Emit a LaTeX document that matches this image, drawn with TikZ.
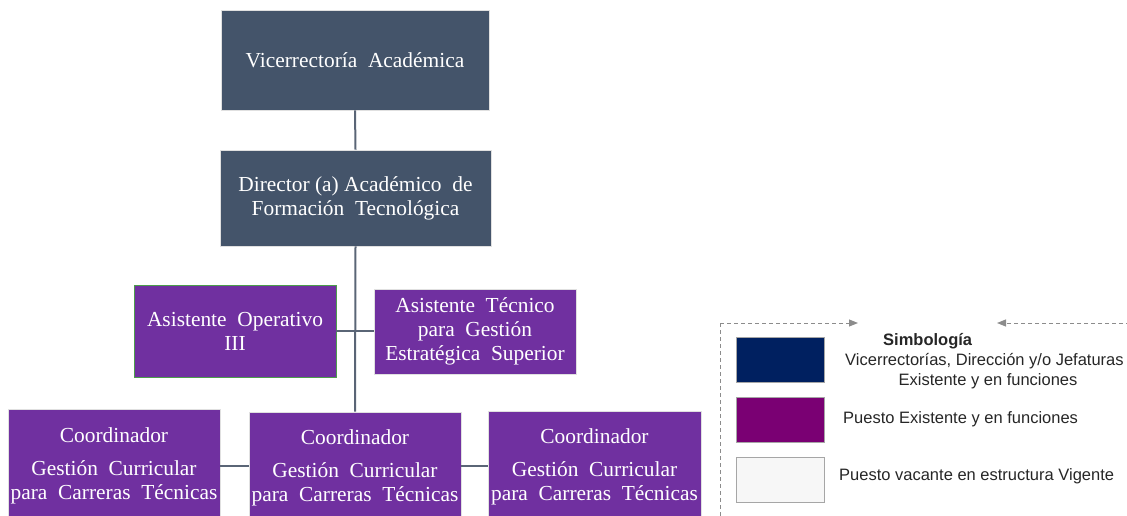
\documentclass[tikz,border=0pt]{standalone}
\usepackage{fontspec}
\setmainfont{Liberation Serif}
\newfontfamily\legfont{Liberation Sans}
\usetikzlibrary{arrows.meta}
\definecolor{slate}{HTML}{44546A}
\definecolor{purp}{HTML}{7030A0}
\definecolor{legnavy}{HTML}{002060}
\definecolor{legpurp}{HTML}{7A0073}
\definecolor{lineg}{HTML}{5A6576}
\definecolor{dashg}{HTML}{8C8C8C}
\tikzset{
  orgbox/.style={draw=black!12, line width=0.8pt, text=white, align=center,
    font=\rmfamily\fontsize{21.4}{24}\selectfont, inner sep=0pt},
  dirbox/.style={orgbox, fill=slate},
  posbox/.style={orgbox, fill=purp},
  conn/.style={draw=lineg, line width=2pt},
  legbox/.style={draw=black!35, line width=0.8pt, minimum width=88pt, minimum height=45pt, inner sep=0pt},
  legtext/.style={font=\legfont\fontsize{16.5}{18}\selectfont, inner sep=0pt, text=black!85},
  legdash/.style={draw=dashg, line width=1pt, dash pattern=on 4pt off 3pt}
}
\begin{document}
\begin{tikzpicture}[x=1pt,y=-1pt]
\useasboundingbox (0,0) rectangle (1127,516);
\node[dirbox, minimum width=268pt, minimum height=100pt] (vice) at (355,60) {Vicerrectoría\ \ Académica};
\node[dirbox, minimum width=271pt, minimum height=96pt] (dir) at (355.5,198) {\raisebox{-2pt}{\parbox{260pt}{\centering Director (a) Académico\ \ de\\Formación\ \ Tecnológica}}};
\node[posbox, draw=green!45!black!70, minimum width=202pt, minimum height=92pt] (asop) at (235,331) {Asistente\ \ Operativo\\III};
\node[posbox, minimum width=202pt, minimum height=85pt] (astec) at (475,331.5) {Asistente\ \ Técnico\\para\ \ Gestión\\Estratégica\ \ Superior};
\node[posbox, minimum width=212pt, minimum height=114pt] (coordl) at (114,466) {Coordinador\\[9pt]Gestión\ \ Curricular\\para\ \ Carreras\ \ Técnicas};
\node[posbox, minimum width=212pt, minimum height=112pt] (coordm) at (355,468) {Coordinador\\[9pt]Gestión\ \ Curricular\\para\ \ Carreras\ \ Técnicas};
\node[posbox, minimum width=213pt, minimum height=112pt] (coordr) at (594.5,467) {Coordinador\\[9pt]Gestión\ \ Curricular\\para\ \ Carreras\ \ Técnicas};
\draw[conn] (vice.south) -- (dir.north);
\draw[conn] (dir.south) -- (coordm.north);
\draw[conn] (asop.east) -- (asop.east -| astec.west);
\draw[conn] (coordl.east) -- (coordl.east -| coordm.west);
\draw[conn] (coordm.east |- coordl.east) -- (coordl.east -| coordr.west);
% legend
\coordinate (lc) at (720,323);
\coordinate (la) at (858,323);
\coordinate (rc) at (1130,323);
\coordinate (ra) at (997,323);
\coordinate (lb) at (720,520);
\draw[legdash, -{Triangle[length=9pt,width=7pt]}] (lc) -- (la);
\draw[legdash, -{Triangle[length=9pt,width=7pt]}] (rc) -- (ra);
\draw[legdash] (lc) -- (lb);
\node[legbox, fill=legnavy] (l1) at (780,359.5) {};
\node[legbox, fill=legpurp] (l2) at (780,419.5) {};
\node[legbox, fill=black!3] (l3) at (780,479.5) {};
\node[legtext, font=\legfont\bfseries\fontsize{16.5}{18}\selectfont, anchor=west] (simb) at (883,341) {Simbología};
\node[legtext, anchor=west] (t1a) at (845,361) {Vicerrectorías, Dirección y/o Jefaturas};
\node[legtext] (t1b) at (988,381) {Existente y en funciones};
\node[legtext, anchor=west] (t2) at (843,419) {Puesto Existente y en funciones};
\node[legtext, anchor=west] (t3) at (839,476) {Puesto vacante en estructura Vigente};
\end{tikzpicture}
\end{document}
